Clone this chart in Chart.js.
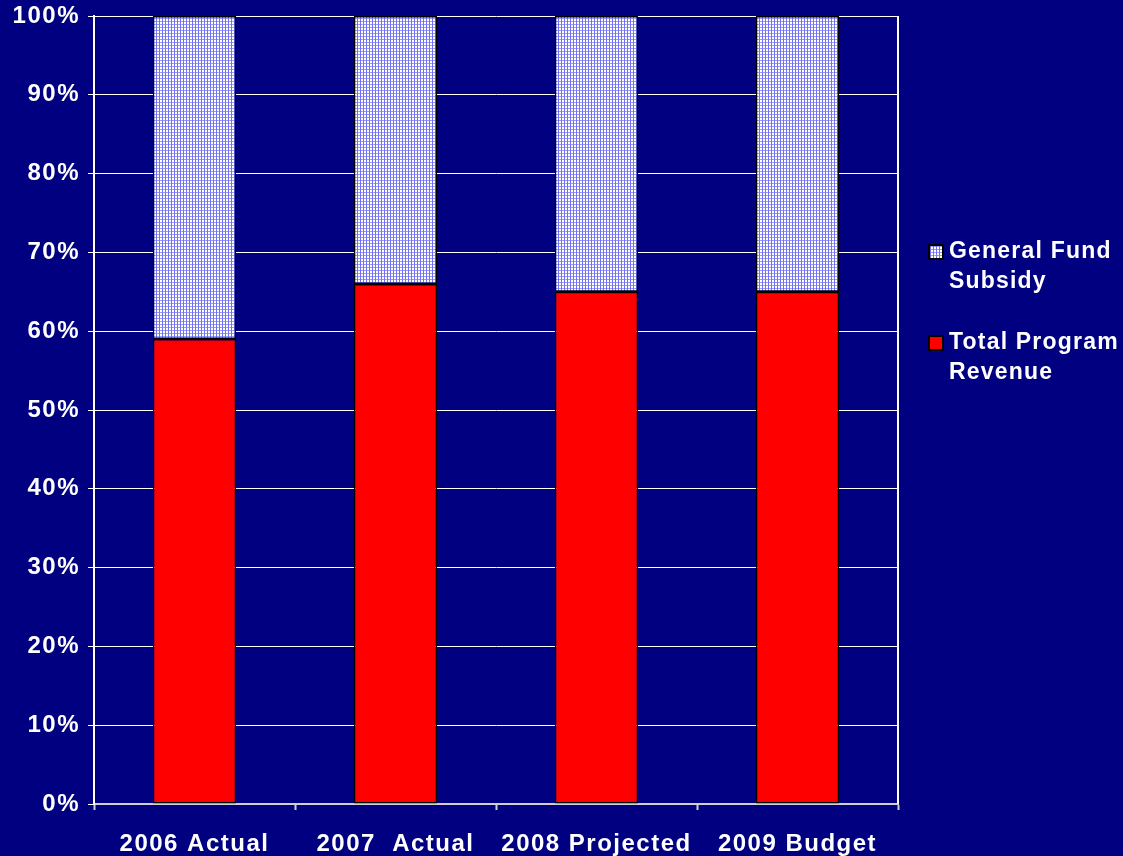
<!DOCTYPE html>
<html>
<head>
<meta charset="utf-8">
<script src="https://cdn.jsdelivr.net/npm/chart.js@4"></script>
<style>
  html, body { margin: 0; padding: 0; background: #000080; }
  #wrap { width: 1123px; height: 856px; }
</style>
</head>
<body>
<div id="wrap"><canvas id="revChart" width="1123" height="856"></canvas></div>
<script>
// data
const years = ['2006 Actual', '2007  Actual', '2008 Projected', '2009 Budget'];
const programRevenue = [59, 66, 65, 65];
const generalFund = [41, 34, 35, 35];
const yTicks = [0, 10, 20, 30, 40, 50, 60, 70, 80, 90, 100];

// dotted fill for the subsidy part
function makePattern() {
    const c = document.createElement('canvas');
    c.width = 3; c.height = 3;
    const p = c.getContext('2d');
    p.fillStyle = '#ffffff';
    p.fillRect(0, 0, 3, 3);
    p.fillStyle = '#9a9aff';
    p.fillRect(0, 0, 3, 1);
    p.fillStyle = '#7272f0';
    p.fillRect(0, 0, 1, 3);
    return p.createPattern(c, 'repeat');
}
const subsidyFill = makePattern();

const FONT = "'Liberation Sans', Arial, sans-serif";

// wider letters like the original
const spacing = {
    id: 'spacing',
    beforeUpdate(chart) { chart.ctx.letterSpacing = '1.5px'; },
    beforeDraw(chart) { chart.ctx.letterSpacing = '1.5px'; }
};

// legend on the right, two lines per entry
const sideLegend = {
    id: 'sideLegend',
    afterDraw(chart) {
        const ctx = chart.ctx;
        const items = [
            { ds: chart.data.datasets[1], lines: ['General Fund', 'Subsidy'], y: 252 },
            { ds: chart.data.datasets[0], lines: ['Total Program', 'Revenue'], y: 343 }
        ];
        ctx.save();
        items.forEach(it => {
            ctx.fillStyle = it.ds.backgroundColor;
            ctx.fillRect(929, it.y - 7, 14, 14);
            ctx.strokeStyle = '#000000';
            ctx.lineWidth = 2;
            ctx.strokeRect(929, it.y - 7, 14, 14);
            ctx.fillStyle = '#ffffff';
            ctx.font = 'bold 23px ' + FONT;
            ctx.letterSpacing = '1.2px';
            ctx.textBaseline = 'middle';
            ctx.textAlign = 'left';
            it.lines.forEach((t, i) => ctx.fillText(t, 949, it.y + i * 30));
        });
        // right edge of the plot area
        const a = chart.chartArea;
        ctx.strokeStyle = '#ffffff';
        ctx.lineWidth = 2;
        ctx.beginPath();
        ctx.moveTo(a.right, a.top);
        ctx.lineTo(a.right, a.bottom);
        ctx.stroke();
        ctx.restore();
    }
};

const ctx = document.getElementById('revChart').getContext('2d');
new Chart(ctx, {
    type: 'bar',
    data: {
        labels: years,
        datasets: [
            {
                label: 'Total Program Revenue',
                data: programRevenue,
                backgroundColor: '#ff0000',
                borderColor: '#000000',
                borderWidth: 1.5,
                borderSkipped: false,
                categoryPercentage: 1,
                barPercentage: 0.415
            },
            {
                label: 'General Fund Subsidy',
                data: generalFund,
                backgroundColor: subsidyFill,
                borderColor: '#000000',
                borderWidth: 1.5,
                borderSkipped: false,
                categoryPercentage: 1,
                barPercentage: 0.415
            }
        ]
    },
    options: {
        responsive: false,
        animation: false,
        layout: { padding: { top: 16, right: 225, left: 0, bottom: 0 } },
        plugins: {
            legend: { display: false },
            tooltip: { enabled: false }
        },
        scales: {
            x: {
                stacked: true,
                grid: {
                    offset: true,
                    drawOnChartArea: false,
                    drawTicks: true,
                    tickLength: 6,
                    tickColor: '#d0d0d0',
                    tickWidth: 2
                },
                border: { color: '#d0d0d0', width: 2 },
                ticks: {
                    color: '#ffffff',
                    font: { family: FONT, size: 24, weight: 'bold' },
                    padding: 20,
                    maxRotation: 0
                },
                afterFit(scale) {
                    scale.height = 52;
                    scale.paddingLeft = 0;
                    scale.paddingRight = 0;
                }
            },
            y: {
                stacked: true,
                min: 0,
                max: 100,
                afterBuildTicks(scale) { scale.ticks = yTicks.map(v => ({ value: v })); },
                grid: {
                    color: '#ffffff',
                    lineWidth: 1,
                    tickLength: 6,
                    tickColor: '#ffffff'
                },
                border: { color: '#ffffff', width: 2 },
                ticks: {
                    color: '#ffffff',
                    font: { family: FONT, size: 24, weight: 'bold' },
                    padding: 8,
                    callback: v => v + '%'
                },
                afterFit(scale) {
                    scale.width = 94;
                    scale.paddingTop = 0;
                    scale.paddingBottom = 0;
                }
            }
        }
    },
    plugins: [spacing, sideLegend]
});
</script>
</body>
</html>
